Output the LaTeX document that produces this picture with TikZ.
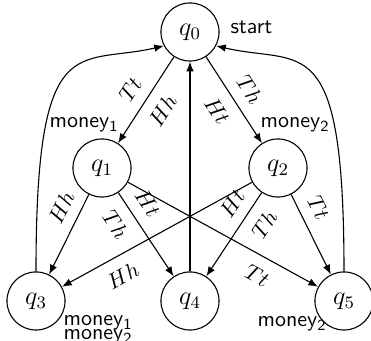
\documentclass[tikz,border=0pt]{standalone}
\usetikzlibrary{arrows.meta}
\begin{document}
\begin{tikzpicture}[x=0.4545pt,y=-0.4545pt,line width=0.5pt,
  state/.style={circle,draw,minimum size=26.4pt,inner sep=0pt,font=\large},
  arr/.style={-{Latex[length=4.4pt,width=3.4pt]}},
  lbl/.style={sloped,font=\normalsize},
  txt/.style={font=\sffamily,inner sep=0pt,anchor=base west}]
\useasboundingbox (0,0) rectangle (371,341);

% states
\node[state] (q0) at (190,32)  {$q_0$};
\node[state] (q1) at (102,168) {$q_1$};
\node[state] (q2) at (278,168) {$q_2$};
\node[state] (q3) at (36,301)  {$q_3$};
\node[state] (q4) at (190,301) {$q_4$};
\node[state] (q5) at (344,301) {$q_5$};

% annotations
\node[txt] (start) at (230,34) {start};
\node[txt] (m1a) at (49,128)  {money\textsubscript{1}};
\node[txt] (m2a) at (260,128) {money\textsubscript{2}};
\node[txt] (m1b) at (63,326)  {money\textsubscript{1}};
\node[txt] (m2b) at (63,340)  {money\textsubscript{2}};
\node[txt] (m2c) at (257,327) {money\textsubscript{2}};

% transitions from q0
\draw[arr] (q0) -- node[lbl,above=1.5pt]{$Tt$} node[lbl,below=2pt]{$Hh$} (q1);
\draw[arr] (q0) -- node[lbl,above=1.5pt]{$Th$} node[lbl,below=2pt]{$Ht$} (q2);

% transitions from q1
\draw[arr] (q1) -- node[lbl,pos=.27,above=1.5pt]{$Hh$} (q3);
\draw[arr] (q1) -- node[lbl,pos=.25,above=1.5pt]{$Ht$} node[lbl,pos=.25,below=2pt]{$Th$} (q4);
\draw[arr] (q1) -- node[lbl,pos=.73,below=2pt]{$Tt$} (q5);

% transitions from q2
\draw[arr] (q2) -- node[lbl,pos=.73,below=2pt]{$Hh$} (q3);
\draw[arr] (q2) -- node[lbl,pos=.25,above=1.5pt]{$Ht$} node[lbl,pos=.25,below=2pt]{$Th$} (q4);
\draw[arr] (q2) -- node[lbl,pos=.27,above=1.5pt]{$Tt$} (q5);

% returns to q0
\draw[arr] (q4) -- (q0);
\draw[arr] (q3.north) .. controls (36,25) and (78,66) .. (q0.208);
\draw[arr] (q5.north) .. controls (344,25) and (302,66) .. (q0.332);
\end{tikzpicture}
\end{document}
